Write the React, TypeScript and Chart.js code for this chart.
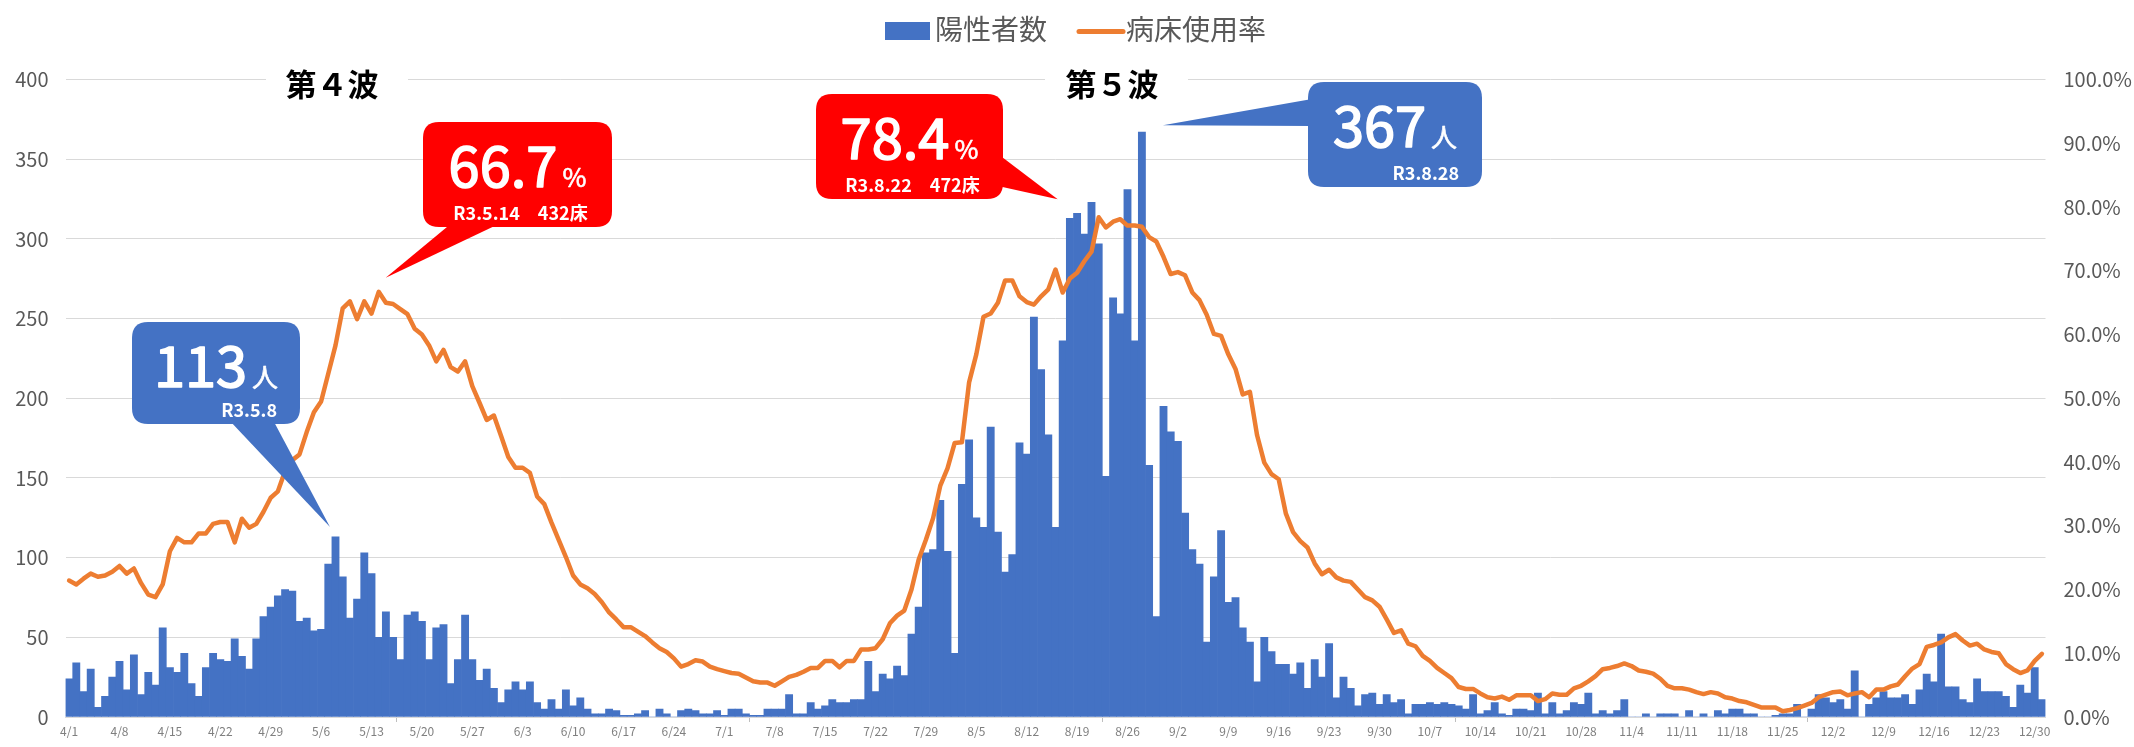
import React, { useEffect, useRef } from "react";
import { Chart, registerables } from "chart.js";

Chart.register(...registerables);

const FONT = "'Noto Sans CJK JP', 'Noto Sans', sans-serif";

// ---- categories (daily, R3 4/1 - 12/31) ----
const MONTHS = [4, 5, 6, 7, 8, 9, 10, 11, 12];
const DAYS_IN_MONTH = [30, 31, 30, 31, 31, 30, 31, 30, 31];
const dates: string[] = MONTHS.flatMap((m, k) =>
  Array.from({ length: DAYS_IN_MONTH[k] }, (_, d) => `${m}/${d + 1}`)
);

// ---- tick labels ----
const X_TICK_LABELS = [
  "4/1", "4/8", "4/15", "4/22", "4/29", "5/6", "5/13", "5/20", "5/27", "6/3",
  "6/10", "6/17", "6/24", "7/1", "7/8", "7/15", "7/22", "7/29", "8/5", "8/12",
  "8/19", "8/26", "9/2", "9/9", "9/16", "9/23", "9/30", "10/7", "10/14", "10/21",
  "10/28", "11/4", "11/11", "11/18", "11/25", "12/2", "12/9", "12/16", "12/23", "12/30",
];
const LEFT_TICKS = [0, 50, 100, 150, 200, 250, 300, 350, 400];
const RIGHT_TICKS = [0, 10, 20, 30, 40, 50, 60, 70, 80, 90, 100];

// ---- 陽性者数 (daily positives) ----
const positivesApr = [24, 34, 16, 30, 6, 13, 25, 35, 17, 39, 14, 28, 20, 56, 31, 28, 40, 21, 13, 31, 40, 36, 35, 49, 38, 30, 49, 63, 69, 76];
const positivesMay = [80, 79, 60, 62, 54, 55, 96, 113, 88, 62, 74, 103, 90, 50, 66, 50, 36, 64, 66, 60, 36, 56, 58, 21, 36, 64, 36, 23, 30, 18, 9];
const positivesJun = [17, 22, 17, 22, 9, 5, 11, 5, 17, 7, 12, 5, 2, 2, 5, 4, 1, 1, 2, 4, 0, 5, 2, 0, 4, 5, 4, 2, 2, 4];
const positivesJul = [1, 5, 5, 2, 1, 1, 5, 5, 5, 14, 2, 2, 9, 5, 7, 11, 9, 9, 11, 11, 35, 16, 27, 24, 32, 26, 52, 69, 103, 105, 136];
const positivesAug = [104, 40, 146, 174, 125, 119, 182, 116, 91, 102, 172, 165, 251, 218, 177, 119, 236, 313, 316, 303, 323, 297, 151, 263, 253, 331, 236, 367, 158, 63, 195];
const positivesSep = [179, 173, 128, 105, 96, 47, 88, 117, 72, 75, 56, 47, 22, 50, 41, 33, 33, 27, 34, 18, 36, 25, 46, 12, 25, 18, 7, 14, 15, 8];
const positivesOct = [14, 9, 11, 2, 8, 8, 9, 8, 9, 8, 7, 5, 14, 2, 4, 9, 2, 1, 5, 5, 4, 15, 2, 9, 2, 4, 9, 8, 15, 2, 4];
const positivesNov = [2, 4, 11, 0, 0, 2, 0, 2, 2, 2, 0, 4, 0, 2, 0, 4, 2, 5, 5, 2, 2, 0, 0, 1, 2, 2, 8, 0, 5, 14];
const positivesDec = [12, 9, 11, 5, 29, 0, 8, 12, 16, 12, 12, 14, 8, 17, 27, 22, 52, 19, 19, 11, 9, 24, 16, 16, 16, 13, 6, 20, 15, 31, 11];
const positives = [
  ...positivesApr, ...positivesMay, ...positivesJun, ...positivesJul, ...positivesAug,
  ...positivesSep, ...positivesOct, ...positivesNov, ...positivesDec,
];

// ---- 病床使用率 (%) ----
const bedRateApr = [21.4, 20.8, 21.7, 22.5, 22.0, 22.2, 22.8, 23.7, 22.5, 23.3, 21.0, 19.2, 18.8, 20.8, 26.0, 28.1, 27.4, 27.4, 28.8, 28.8, 30.3, 30.6, 30.6, 27.4, 31.1, 29.7, 30.3, 32.2, 34.4, 35.4];
const bedRateMay = [38.6, 40.3, 41.2, 44.7, 47.8, 49.5, 53.9, 58.3, 64.1, 65.2, 62.4, 65.2, 63.3, 66.7, 65.0, 64.8, 64.0, 63.2, 60.9, 60.0, 58.3, 55.8, 57.6, 54.9, 54.2, 55.8, 51.9, 49.3, 46.6, 47.3, 44.1];
const bedRateJun = [40.8, 39.1, 39.1, 38.3, 34.6, 33.4, 30.5, 27.8, 25.1, 22.2, 20.8, 20.2, 19.3, 18.0, 16.4, 15.3, 14.1, 14.1, 13.4, 12.7, 11.7, 10.8, 10.2, 9.2, 7.9, 8.3, 8.9, 8.7, 7.9, 7.5];
const bedRateJul = [7.2, 6.9, 6.8, 6.2, 5.6, 5.4, 5.4, 4.9, 5.6, 6.3, 6.6, 7.1, 7.7, 7.7, 8.8, 8.8, 7.8, 8.8, 8.8, 10.6, 10.6, 10.8, 12.2, 14.7, 15.9, 16.7, 20.0, 24.7, 27.8, 31.2, 36.3];
const bedRateAug = [39.0, 43.0, 43.1, 52.5, 56.9, 62.8, 63.3, 65.0, 68.5, 68.5, 66.0, 65.1, 64.7, 66.0, 67.1, 70.2, 66.6, 68.8, 69.7, 71.5, 73.0, 78.4, 76.8, 77.7, 78.1, 77.1, 77.1, 76.9, 75.3, 74.6, 72.2];
const bedRateSep = [69.5, 69.8, 69.3, 66.6, 65.4, 63.1, 60.1, 59.8, 56.9, 54.6, 50.6, 51.0, 44.2, 39.9, 38.1, 37.3, 31.9, 29.0, 27.6, 26.6, 24.1, 22.4, 23.1, 21.9, 21.4, 21.2, 20.0, 18.8, 18.3, 17.3];
const bedRateOct = [15.3, 13.2, 13.6, 11.5, 11.1, 9.6, 8.8, 7.7, 6.9, 6.1, 4.7, 4.4, 4.4, 3.7, 3.1, 2.9, 3.2, 2.7, 3.4, 3.4, 3.4, 2.5, 2.8, 3.7, 3.5, 3.5, 4.5, 4.9, 5.6, 6.4, 7.5];
const bedRateNov = [7.7, 8.0, 8.4, 8.0, 7.3, 7.1, 6.8, 6.0, 4.9, 4.5, 4.5, 4.3, 3.9, 3.6, 3.9, 3.7, 3.1, 2.9, 2.5, 2.3, 1.9, 1.5, 1.5, 1.5, 0.9, 1.1, 1.4, 1.8, 2.2, 3.1];
const bedRateDec = [3.5, 3.9, 4.0, 3.4, 3.7, 3.9, 3.1, 4.3, 4.3, 4.8, 5.1, 6.4, 7.6, 8.3, 11.0, 11.3, 11.7, 12.5, 13.0, 12.0, 11.2, 11.5, 10.6, 10.2, 10.0, 8.3, 7.5, 6.9, 7.3, 8.8, 9.9];
const bedRate = [
  ...bedRateApr, ...bedRateMay, ...bedRateJun, ...bedRateJul, ...bedRateAug,
  ...bedRateSep, ...bedRateOct, ...bedRateNov, ...bedRateDec,
];

// ---- annotation texts ----
const WAVE_LABELS = [
  { text: "第４波", cx: 332, cy: 84, left: 266, right: 408 },
  { text: "第５波", cx: 1112, cy: 84, left: 1045, right: 1188 },
];

type Callout = {
  box: [number, number, number, number];
  color: string;
  value: string;
  unit: string;
  sub: string;
  subAlign: "right" | "center";
  base: [[number, number], [number, number]];
  anchorDate: string;
  anchorSeries: "bar" | "line";
  tipOffset: [number, number];
};

const CALLOUTS: Callout[] = [
  {
    box: [132, 322, 168, 102], color: "#4472C4", value: "113", unit: "人", sub: "R3.5.8", subAlign: "right",
    base: [[229, 420], [273, 420]], anchorDate: "5/8", anchorSeries: "bar", tipOffset: [-5.5, -10],
  },
  {
    box: [423, 122, 189, 105], color: "#FF0000", value: "66.7", unit: "%", sub: "R3.5.14　432床", subAlign: "center",
    base: [[453, 222], [503, 222]], anchorDate: "5/14", anchorSeries: "line", tipOffset: [7, -14],
  },
  {
    box: [816, 94, 187, 105], color: "#FF0000", value: "78.4", unit: "%", sub: "R3.8.22　472床", subAlign: "center",
    base: [[998, 154], [998, 186]], anchorDate: "8/22", anchorSeries: "line", tipOffset: [-41, -18],
  },
  {
    box: [1308, 82, 174, 105], color: "#4472C4", value: "367", unit: "人", sub: "R3.8.28", subAlign: "right",
    base: [[1312, 99], [1312, 126]], anchorDate: "8/28", anchorSeries: "bar", tipOffset: [21, -7],
  },
];

function roundRectPath(ctx: CanvasRenderingContext2D, x: number, y: number, w: number, h: number, r: number) {
  ctx.beginPath();
  ctx.moveTo(x + r, y);
  ctx.lineTo(x + w - r, y);
  ctx.quadraticCurveTo(x + w, y, x + w, y + r);
  ctx.lineTo(x + w, y + h - r);
  ctx.quadraticCurveTo(x + w, y + h, x + w - r, y + h);
  ctx.lineTo(x + r, y + h);
  ctx.quadraticCurveTo(x, y + h, x, y + h - r);
  ctx.lineTo(x, y + r);
  ctx.quadraticCurveTo(x, y, x + r, y);
  ctx.closePath();
}

const annotationPlugin = {
  id: "annotations",
  afterDraw(chart: any) {
    const ctx: CanvasRenderingContext2D = chart.ctx;
    const xs = chart.scales.x;
    const ys = chart.scales.y;
    const y1s = chart.scales.y1;

    // Legend
    ctx.save();
    ctx.fillStyle = "#4472C4";
    ctx.fillRect(885, 22, 45, 18);
    ctx.strokeStyle = "#ED7D31";
    ctx.lineWidth = 5;
    ctx.lineCap = "round";
    ctx.beginPath();
    ctx.moveTo(1079, 31.5);
    ctx.lineTo(1123, 31.5);
    ctx.stroke();
    ctx.fillStyle = "#595959";
    ctx.font = `28px ${FONT}`;
    ctx.textBaseline = "middle";
    ctx.textAlign = "left";
    ctx.fillText("陽性者数", 935, 29);
    ctx.fillText("病床使用率", 1126, 29);
    ctx.restore();

    // Wave labels
    ctx.save();
    for (const w of WAVE_LABELS) {
      ctx.fillStyle = "#ffffff";
      ctx.fillRect(w.left, w.cy - 16, w.right - w.left, 30);
      ctx.fillStyle = "#000000";
      ctx.font = `bold 31px ${FONT}`;
      ctx.textAlign = "center";
      ctx.textBaseline = "middle";
      ctx.fillText(w.text, w.cx, w.cy);
    }
    ctx.restore();

    // Callouts
    for (const c of CALLOUTS) {
      const idx = dates.indexOf(c.anchorDate);
      const ax = xs.getPixelForValue(idx);
      const ay = c.anchorSeries === "bar" ? ys.getPixelForValue(positives[idx]) : y1s.getPixelForValue(bedRate[idx]);
      const tipX = ax + c.tipOffset[0];
      const tipY = ay + c.tipOffset[1];
      const [x, y, w, h] = c.box;
      ctx.save();
      ctx.fillStyle = c.color;
      roundRectPath(ctx, x, y, w, h, 16);
      ctx.fill();
      ctx.beginPath();
      ctx.moveTo(c.base[0][0], c.base[0][1]);
      ctx.lineTo(tipX, tipY);
      ctx.lineTo(c.base[1][0], c.base[1][1]);
      ctx.closePath();
      ctx.fill();

      ctx.fillStyle = "#ffffff";
      ctx.strokeStyle = "#ffffff";
      ctx.lineJoin = "round";
      ctx.textBaseline = "alphabetic";
      ctx.textAlign = "left";
      const bigFont = `56px ${FONT}`;
      const unitFont = `26px ${FONT}`;
      ctx.font = bigFont;
      const wN = ctx.measureText(c.value).width;
      ctx.font = unitFont;
      const wU = ctx.measureText(c.unit).width;
      const gap = 5;
      const sx = x + w / 2 - (wN + gap + wU) / 2;
      ctx.font = bigFont;
      ctx.lineWidth = 1.6;
      ctx.fillText(c.value, sx, y + 65);
      ctx.strokeText(c.value, sx, y + 65);
      ctx.font = unitFont;
      ctx.lineWidth = 0.6;
      ctx.fillText(c.unit, sx + wN + gap, y + 65);
      ctx.strokeText(c.unit, sx + wN + gap, y + 65);
      ctx.font = `bold 18px ${FONT}`;
      if (c.subAlign === "right") {
        ctx.textAlign = "right";
        ctx.fillText(c.sub, x + w - 23, y + h - 7);
      } else {
        ctx.textAlign = "center";
        ctx.fillText(c.sub, x + w / 2 + 3, y + h - 7);
      }
      ctx.restore();
    }
  },
};

export default function App() {
  const canvasRef = useRef<HTMLCanvasElement | null>(null);

  useEffect(() => {
    const canvas = canvasRef.current;
    if (!canvas) return;
    const chart = new Chart(canvas, {
      type: "bar",
      data: {
        labels: dates,
        datasets: [
          {
            type: "line",
            label: "病床使用率",
            data: bedRate,
            yAxisID: "y1",
            borderColor: "#ED7D31",
            backgroundColor: "#ED7D31",
            borderWidth: 4.5,
            pointRadius: 0,
            tension: 0,
            borderJoinStyle: "round",
            borderCapStyle: "round",
            order: 0,
          } as any,
          {
            type: "bar",
            label: "陽性者数",
            data: positives,
            yAxisID: "y",
            backgroundColor: "#4472C4",
            barPercentage: 1,
            categoryPercentage: 1,
            borderWidth: 0,
            order: 1,
          } as any,
        ],
      },
      options: {
        responsive: false,
        animation: false,
        devicePixelRatio: 1,
        layout: { padding: { top: 79.6, left: 0, right: 0, bottom: 0 } },
        plugins: { legend: { display: false }, tooltip: { enabled: false } },
        scales: {
          x: {
            type: "category",
            offset: true,
            grid: {
              offset: true,
              drawOnChartArea: false,
              drawTicks: true,
              tickLength: 5,
              color: "#d9d9d9",
              tickColor: (ctx: any) =>
                X_TICK_LABELS.includes(dates[ctx.index]) ? "#bfbfbf" : "rgba(0,0,0,0)",
            },
            border: { display: true, color: "#d9d9d9", width: 1 },
            ticks: {
              autoSkip: false,
              maxRotation: 0,
              minRotation: 0,
              padding: 2,
              color: "#7f7f7f",
              font: { family: FONT, size: 12 },
              callback: (_v: any, i: number) => (X_TICK_LABELS.includes(dates[i]) ? dates[i] : null),
            },
            afterFit: (s: any) => {
              s.height = 747 - 723.8;
            },
          },
          y: {
            position: "left",
            min: LEFT_TICKS[0],
            max: LEFT_TICKS[LEFT_TICKS.length - 1],
            afterBuildTicks: (s: any) => {
              s.ticks = LEFT_TICKS.map((v) => ({ value: v }));
            },
            grid: { color: "#d9d9d9", lineWidth: 1, drawTicks: false },
            border: { display: false },
            ticks: {
              padding: 17,
              color: "#595959",
              font: { family: FONT, size: 20 },
              callback: (v: any) => String(v),
            },
            afterFit: (s: any) => {
              s.width = 65.5;
            },
          },
          y1: {
            position: "right",
            min: RIGHT_TICKS[0],
            max: RIGHT_TICKS[RIGHT_TICKS.length - 1],
            afterBuildTicks: (s: any) => {
              s.ticks = RIGHT_TICKS.map((v) => ({ value: v }));
            },
            grid: { drawOnChartArea: false, drawTicks: false },
            border: { display: false },
            ticks: {
              padding: 18,
              color: "#595959",
              font: { family: FONT, size: 20 },
              callback: (v: any) => `${Number(v).toFixed(1)}%`,
            },
            afterFit: (s: any) => {
              s.width = 2134 - 2045.5;
            },
          },
        },
      } as any,
      plugins: [annotationPlugin],
    });
    return () => chart.destroy();
  }, []);

  return (
    <div style={{ position: "absolute", left: 0, top: 0, width: 2134, height: 747, background: "#ffffff" }}>
      <canvas ref={canvasRef} width={2134} height={747} style={{ display: "block", width: 2134, height: 747 }} />
    </div>
  );
}
